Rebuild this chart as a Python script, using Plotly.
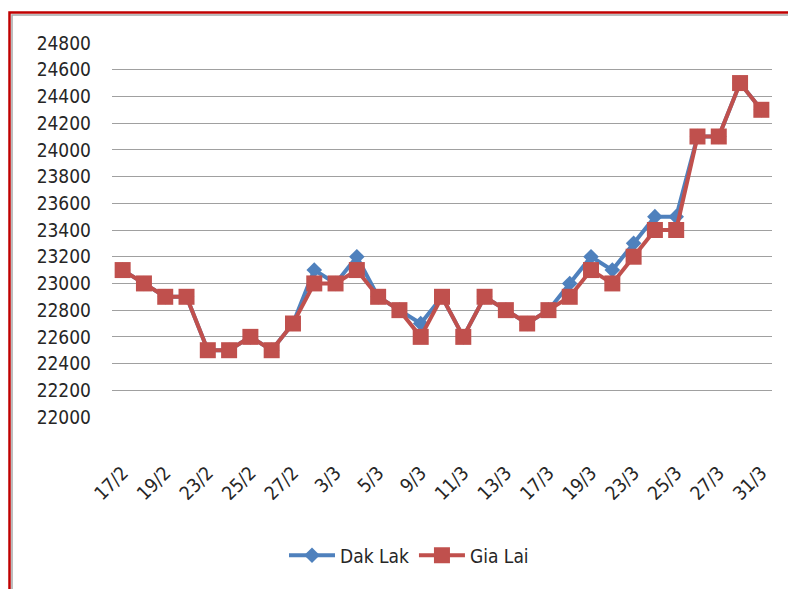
import plotly.graph_objects as go

dates = ["17/2", "18/2", "19/2", "22/2", "23/2", "24/2", "25/2", "26/2", "27/2", "28/2",
         "3/3", "4/3", "5/3", "8/3", "9/3", "10/3", "11/3", "12/3", "13/3", "16/3",
         "17/3", "18/3", "19/3", "22/3", "23/3", "24/3", "25/3", "26/3", "27/3", "30/3", "31/3"]

dak_lak = [23100, 23000, 22900, 22900, 22500, 22500, 22600, 22500, 22700, 23100,
           23000, 23200, 22900, 22800, 22700, 22900, 22600, 22900, 22800, 22700,
           22800, 23000, 23200, 23100, 23300, 23500, 23500, 24100, 24100, 24500, 24300]

gia_lai = [23100, 23000, 22900, 22900, 22500, 22500, 22600, 22500, 22700, 23000,
           23000, 23100, 22900, 22800, 22600, 22900, 22600, 22900, 22800, 22700,
           22800, 22900, 23100, 23000, 23200, 23400, 23400, 24100, 24100, 24500, 24300]

y_ticks = list(range(22000, 24801, 200))
x_labels_shown = dates[::2]

FONT = "DejaVu Sans Condensed, DejaVu Sans, sans-serif"
TXT = "#262626"

fig = go.Figure()
fig.add_trace(go.Scatter(
    x=dates, y=dak_lak, name="Dak Lak", mode="lines+markers",
    line=dict(color="#4F81BD", width=4),
    marker=dict(symbol="diamond", size=12, color="#4F81BD"),
))
fig.add_trace(go.Scatter(
    x=dates, y=gia_lai, name="Gia Lai", mode="lines+markers",
    line=dict(color="#C0504D", width=4),
    marker=dict(symbol="square", size=16, color="#C0504D"),
))

OFF = 8  # page body margin
W, H = 796 - OFF, 589 - OFF
L, R, T, B = 112 - OFF, 796 - 772, 43 - OFF, 589 - 416.7
pw, ph = W - L - R, H - T - B

def px_x(p):
    return (p - OFF - L) / pw

def px_y(p):
    return (589 - B - p) / ph

# outer red border and inner gray line (left and top visible)
fig.add_shape(type="rect", xref="paper", yref="paper",
              x0=px_x(9.5), x1=px_x(830), y0=px_y(640), y1=px_y(12.5),
              line=dict(color="#C00000", width=2.5), layer="below")
fig.add_shape(type="rect", xref="paper", yref="paper",
              x0=px_x(12), x1=px_x(830), y0=px_y(640), y1=px_y(15),
              line=dict(color="#A6A6A6", width=1.5), layer="below")

fig.update_layout(
    width=W, height=H,
    margin=dict(l=L, r=R, t=T, b=B, autoexpand=False),
    paper_bgcolor="white", plot_bgcolor="white",
    font=dict(family=FONT, size=19, color=TXT),
    showlegend=True,
    legend=dict(orientation="h", x=px_x(284), xanchor="left", y=px_y(555), yanchor="middle",
                font=dict(size=19, color=TXT), itemwidth=46, bgcolor="rgba(0,0,0,0)"),
    xaxis=dict(
        type="category", categoryorder="array", categoryarray=dates,
        range=[-0.5, len(dates) - 0.5],
        tickmode="array", tickvals=x_labels_shown, ticktext=x_labels_shown,
        tickangle=-45, showgrid=False, showline=False, zeroline=False,
        ticks="", ticklabelstandoff=40, automargin=False,
        tickfont=dict(size=19, color=TXT),
    ),
    yaxis=dict(
        range=[22000, 24800], tickmode="array", tickvals=y_ticks,
        ticktext=[str(v) for v in y_ticks],
        showgrid=True, gridcolor="#A0A0A0", gridwidth=1.2,
        showline=False, zeroline=False, ticks="", ticklabelstandoff=20,
        automargin=False,
        tickfont=dict(size=19, color=TXT),
    ),
)

fig.write_html("out.html")
